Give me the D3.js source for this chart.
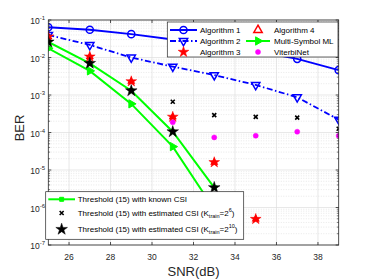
<!DOCTYPE html>
<html>
<head>
<meta charset="utf-8">
<script src="https://cdn.jsdelivr.net/npm/d3@7"></script>
<style>
  body { margin: 0; background: #fff; }
  svg text { font-family: "Liberation Sans", Arial, sans-serif; }
</style>
</head>
<body>
<div id="chart"></div>
<script>
"use strict";

// SNR values (dB)
var snr = [25, 27, 29, 31, 33, 35, 37, 39];

// series values
var alg1 = [0.064, 0.055, 0.042, 0.030, 0.022, 0.015, 0.0092, 0.0046];
var alg2 = [0.040, 0.0216, 0.010, 0.0057, 0.0034, 0.00185, 0.00087, 0.00022];
var alg3 = [0.036, 0.0105, 0.0023, 0.00026, 1.6e-5, 4.9e-7];
var alg4 = [0.036, 0.0105, 0.0023, 0.00026, 1.6e-5, 4.9e-7];
var msml = [0.0176, 0.0044, 0.00058, 4.2e-5, 9e-7];
var thrKnown = [0.026, 0.007, 0.0013, 0.000105, 3.4e-6];
var thrEst6 = [0.026, 0.007, 0.0013, 0.00066, 0.00029, 0.00026, 0.00025, 0.000126];
var thrEst10 = [0.026, 0.007, 0.0013, 0.000105, 3.4e-6];
var viterbi = [null, null, null, 0.000187, 7.4e-5, 8.2e-5, 0.000105, 8.2e-5];

var xTicks = [26, 28, 30, 32, 34, 36, 38];
var yTicks = [-7, -6, -5, -4, -3, -2, -1];

var W = 374, H = 280;
var pLeft = 48.3, pRight = 338.7, pTop = 20, pBottom = 245;

var svg = d3.select("#chart").append("svg")
    .attr("width", W)
    .attr("height", H);

var x = d3.scaleLinear().domain([25, 39]).range([pLeft, pRight]);
var y = d3.scaleLog().domain([1e-7, 1e-1]).range([pBottom, pTop]);

svg.append("defs").append("clipPath").attr("id", "clip")
    .append("rect")
    .attr("x", pLeft).attr("y", pTop)
    .attr("width", pRight - pLeft).attr("height", pBottom - pTop);

// grid
var grid = svg.append("g");
yTicks.forEach(function(e){
    for (var k = 2; k <= 9; k++) {
        var v = k * Math.pow(10, e);
        if (v >= 1e-1) continue;
        grid.append("line")
            .attr("x1", pLeft).attr("x2", pRight)
            .attr("y1", y(v)).attr("y2", y(v))
            .style("stroke", "#d9d9d9")
            .style("stroke-width", 0.6)
            .style("stroke-dasharray", "1,1.5");
    }
});
yTicks.forEach(function(e){
    grid.append("line")
        .attr("x1", pLeft).attr("x2", pRight)
        .attr("y1", y(Math.pow(10, e))).attr("y2", y(Math.pow(10, e)))
        .style("stroke", "#dedede")
        .style("stroke-width", 0.7);
});
xTicks.forEach(function(t){
    grid.append("line")
        .attr("x1", x(t)).attr("x2", x(t))
        .attr("y1", pTop).attr("y2", pBottom)
        .style("stroke", "#dedede")
        .style("stroke-width", 0.7);
});

// series helpers
function pts(vals){
    var out = [];
    vals.forEach(function(v, i){ if (v != null) out.push([snr[i], v]); });
    return out;
}

var line = d3.line()
    .x(function(d){ return x(d[0]); })
    .y(function(d){ return y(d[1]); });

var plot = svg.append("g").attr("clip-path", "url(#clip)");

function drawLine(vals, color, width, dash){
    plot.append("path")
        .datum(pts(vals))
        .attr("d", line)
        .style("fill", "none")
        .style("stroke", color)
        .style("stroke-width", width)
        .style("stroke-dasharray", dash || null);
}

var symStar = d3.symbol().type(d3.symbolStar);
var symTri = d3.symbol().type(d3.symbolTriangle);

function markerPath(kind){
    if (kind == "circle") return d3.symbol().type(d3.symbolCircle).size(40)();
    if (kind == "tri") return symTri.size(30)();
    if (kind == "triSmall") return symTri.size(16)();
    if (kind == "star") return symStar.size(36)();
    if (kind == "starBig") return symStar.size(42)();
    if (kind == "dot") return d3.symbol().type(d3.symbolCircle).size(20)();
    if (kind == "x") return "M-2,-2L2,2M-2,2L2,-2";
    if (kind == "square") return d3.symbol().type(d3.symbolSquare).size(16)();
}

function drawMarkers(g, data, kind, rot, fill, stroke, sw){
    g.selectAll(null)
        .data(data)
        .enter()
        .append("path")
        .attr("d", markerPath(kind))
        .attr("transform", function(d){
            return "translate(" + x(d[0]) + "," + y(d[1]) + ") rotate(" + rot + ")";
        })
        .style("fill", fill)
        .style("stroke", stroke)
        .style("stroke-width", sw);
}

// lines
drawLine(alg1, "#0000ff", 2);
drawLine(alg2, "#0000ff", 1.8, "6,2.5,1.5,2.5");
drawLine(msml, "#00ff00", 2);
drawLine(thrKnown, "#00ff00", 2);

// markers
drawMarkers(plot, pts(alg1), "circle", 0, "none", "#0000ff", 1.5);
drawMarkers(plot, pts(alg2), "tri", 180, "none", "#0000ff", 1.5);
drawMarkers(plot, pts(msml), "tri", 90, "#00ff00", "#00ff00", 1);
drawMarkers(plot, pts(thrKnown), "square", 0, "#00ff00", "#00ff00", 1);
drawMarkers(plot, pts(alg4), "triSmall", 0, "none", "#ff0000", 1.2);
drawMarkers(plot, pts(alg3), "star", 0, "#ff0000", "#ff0000", 0.5);
drawMarkers(plot, pts(viterbi), "dot", 0, "#ff00ff", "#ff00ff", 0.5);
drawMarkers(plot, pts(thrEst6), "x", 0, "none", "#000", 1.6);
drawMarkers(plot, pts(thrEst10), "starBig", 0, "#000", "#000", 0.5);

// axes box and ticks
var axisColor = "#262626";
var ax = svg.append("g");
ax.append("rect")
    .attr("x", pLeft).attr("y", pTop)
    .attr("width", pRight - pLeft).attr("height", pBottom - pTop)
    .style("fill", "none")
    .style("stroke", axisColor)
    .style("stroke-width", 0.8);

xTicks.forEach(function(t){
    ax.append("line").attr("x1", x(t)).attr("x2", x(t))
        .attr("y1", pBottom).attr("y2", pBottom - 3)
        .style("stroke", axisColor).style("stroke-width", 0.8);
    ax.append("line").attr("x1", x(t)).attr("x2", x(t))
        .attr("y1", pTop).attr("y2", pTop + 3)
        .style("stroke", axisColor).style("stroke-width", 0.8);
    ax.append("text")
        .attr("x", x(t)).attr("y", pBottom + 15)
        .attr("text-anchor", "middle")
        .style("font-size", "8.5px")
        .style("fill", axisColor)
        .text(t);
});

yTicks.forEach(function(e){
    var yy = y(Math.pow(10, e));
    ax.append("line").attr("x1", pLeft).attr("x2", pLeft + 3)
        .attr("y1", yy).attr("y2", yy)
        .style("stroke", axisColor).style("stroke-width", 0.8);
    ax.append("line").attr("x1", pRight).attr("x2", pRight - 3)
        .attr("y1", yy).attr("y2", yy)
        .style("stroke", axisColor).style("stroke-width", 0.8);
    for (var k = 2; k <= 9 && e < -1; k++) {
        var ym = y(k * Math.pow(10, e));
        ax.append("line").attr("x1", pLeft).attr("x2", pLeft + 1.8)
            .attr("y1", ym).attr("y2", ym)
            .style("stroke", axisColor).style("stroke-width", 0.6);
        ax.append("line").attr("x1", pRight).attr("x2", pRight - 1.8)
            .attr("y1", ym).attr("y2", ym)
            .style("stroke", axisColor).style("stroke-width", 0.6);
    }
    var lab = ax.append("text")
        .attr("x", 45).attr("y", yy + 4)
        .attr("text-anchor", "end")
        .style("font-size", "8.5px")
        .style("fill", axisColor);
    lab.append("tspan").text("10");
    lab.append("tspan")
        .attr("dy", -4)
        .style("font-size", "6px")
        .text(String(e));
});

// axis labels
svg.append("text")
    .attr("x", (pLeft + pRight) / 2).attr("y", 276)
    .attr("text-anchor", "middle")
    .style("font-size", "13px")
    .style("fill", axisColor)
    .text("SNR(dB)");

svg.append("text")
    .attr("transform", "translate(24,128) rotate(-90)")
    .attr("text-anchor", "middle")
    .style("font-size", "13px")
    .style("fill", axisColor)
    .text("BER");

// legend 1 (top right)
var lg1 = svg.append("g");
lg1.append("rect")
    .attr("x", 167.3).attr("y", 22)
    .attr("width", 338 - 167.3).attr("height", 35)
    .style("fill", "#fff")
    .style("stroke", axisColor)
    .style("stroke-width", 0.7);

function legendEntry(g, x0, x1, yy, tx, color, width, dash, kind, rot, fill, sw, label){
    if (color) {
        g.append("line")
            .attr("x1", x0).attr("x2", x1)
            .attr("y1", yy).attr("y2", yy)
            .style("stroke", color)
            .style("stroke-width", width)
            .style("stroke-dasharray", dash || null);
    }
    if (kind) {
        g.append("path")
            .attr("d", markerPath(kind))
            .attr("transform", "translate(" + ((x0 + x1) / 2) + "," + yy + ") rotate(" + rot + ")")
            .style("fill", fill.f)
            .style("stroke", fill.s)
            .style("stroke-width", sw);
    }
    return g.append("text")
        .attr("x", tx).attr("y", yy + 3)
        .style("font-size", "8px")
        .style("fill", "#000")
        .text(label);
}

legendEntry(lg1, 170, 197, 30, 200, "#0000ff", 2, null, "circle", 0, {f: "none", s: "#0000ff"}, 1.5, "Algorithm 1");
legendEntry(lg1, 170, 197, 41, 200, "#0000ff", 1.8, "6,2.5,1.5,2.5", "tri", 180, {f: "none", s: "#0000ff"}, 1.5, "Algorithm 2");
legendEntry(lg1, 170, 197, 52, 200, null, 0, null, "star", 0, {f: "#ff0000", s: "#ff0000"}, 0.5, "Algorithm 3");
legendEntry(lg1, 246, 270, 30, 274, null, 0, null, "tri", 0, {f: "none", s: "#ff0000"}, 1.5, "Algorithm 4");
legendEntry(lg1, 246, 270, 41, 274, "#00ff00", 2, null, "tri", 90, {f: "#00ff00", s: "#00ff00"}, 1, "Multi-Symbol ML");
legendEntry(lg1, 246, 270, 52, 274, null, 0, null, "dot", 0, {f: "#ff00ff", s: "#ff00ff"}, 0.5, "ViterbiNet");

// legend 2 (bottom left)
var lg2 = svg.append("g");
lg2.append("rect")
    .attr("x", 45.7).attr("y", 191.7)
    .attr("width", 243.7 - 45.7).attr("height", 239.3 - 191.7)
    .style("fill", "#fff")
    .style("stroke", axisColor)
    .style("stroke-width", 0.7);

legendEntry(lg2, 48.3, 75, 199.3, 77.7, "#00ff00", 2, null, "square", 0, {f: "#00ff00", s: "#00ff00"}, 1, "Threshold (15) with known CSI");

var t2 = legendEntry(lg2, 48.3, 75, 213, 77.7, null, 0, null, "x", 0, {f: "none", s: "#000"}, 1.6, "Threshold (15) with estimated CSI (K");
t2.append("tspan").attr("dy", 2).style("font-size", "5.5px").text("train");
t2.append("tspan").attr("dy", -2).text("=2");
t2.append("tspan").attr("dy", -4).style("font-size", "5.5px").text("6");
t2.append("tspan").attr("dy", 4).text(")");

var t3 = legendEntry(lg2, 48.3, 75, 229.3, 77.7, null, 0, null, "starBig", 0, {f: "#000", s: "#000"}, 0.5, "Threshold (15) with estimated CSI (K");
t3.append("tspan").attr("dy", 2).style("font-size", "5.5px").text("train");
t3.append("tspan").attr("dy", -2).text("=2");
t3.append("tspan").attr("dy", -4).style("font-size", "5.5px").text("10");
t3.append("tspan").attr("dy", 4).text(")");
</script>
</body>
</html>
